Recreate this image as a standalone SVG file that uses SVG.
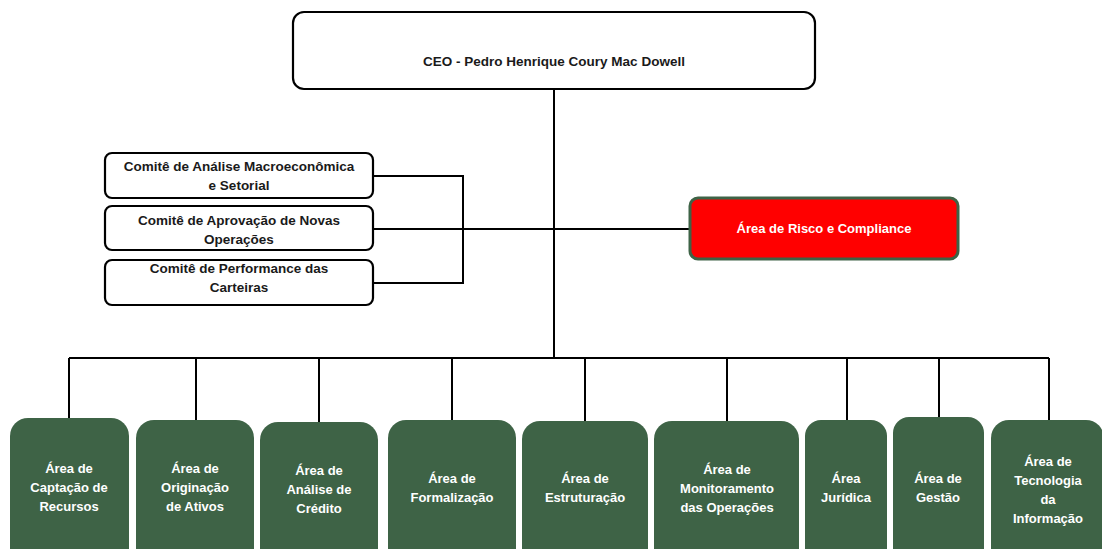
<svg xmlns="http://www.w3.org/2000/svg" width="1102" height="549" viewBox="0 0 1102 549">
<style>
.wbox{fill:#ffffff;stroke:#000000;stroke-width:2.2}
.gbox{fill:#3e6346;stroke:none}
.rbox{fill:#ff0000;stroke:#3e6346;stroke-width:3}
.t{font-family:"Liberation Sans",Arial,sans-serif;font-weight:bold;text-anchor:middle}
.tk{fill:#1a1a1a;font-size:13.5px}
.tw{fill:#ffffff;font-size:13px}
.conn{fill:none;stroke:#000000;stroke-width:2}
</style>
<rect width="1102" height="549" fill="#ffffff"/>
<g id="connectors">
<path class="conn" d="M554 89 V358 M69 358 H1049"/>
<path class="conn" d="M69 358 V418 M196 358 V420 M319 358 V422 M452 358 V420 M585 358 V421 M727 358 V421 M847 358 V420 M939 358 V417 M1049 358 V420"/>
<path class="conn" d="M373 176 H463 V283 H373 M373 229 H690"/>
</g>
<g id="ceo">
<rect class="wbox" x="293" y="12" width="522" height="77" rx="11"/>
<text class="t tk" x="554" y="66">CEO - Pedro Henrique Coury Mac Dowell</text>
</g>
<g id="comite-macro">
<rect class="wbox" x="105" y="153" width="268" height="45" rx="7"/>
<text class="t tk" x="239" y="171">Comitê de Análise Macroeconômica</text>
<text class="t tk" x="239" y="190">e Setorial</text>
</g>
<g id="comite-aprovacao">
<rect class="wbox" x="105" y="206" width="268" height="44" rx="7"/>
<text class="t tk" x="239" y="225">Comitê de Aprovação de Novas</text>
<text class="t tk" x="239" y="244">Operações</text>
</g>
<g id="comite-performance">
<rect class="wbox" x="105" y="260" width="268" height="45" rx="7"/>
<text class="t tk" x="239" y="273">Comitê de Performance das</text>
<text class="t tk" x="239" y="292">Carteiras</text>
</g>
<g id="risco">
<rect class="rbox" x="690" y="198" width="268" height="61" rx="8"/>
<text class="t tw" x="824" y="233">Área de Risco e Compliance</text>
</g>
<g id="captacao">
<rect class="gbox" x="10" y="418" width="119" height="150" rx="18"/>
<text class="t tw" x="69" y="473">Área de</text>
<text class="t tw" x="69" y="492">Captação de</text>
<text class="t tw" x="69" y="511">Recursos</text>
</g>
<g id="originacao">
<rect class="gbox" x="136" y="420" width="118" height="150" rx="18"/>
<text class="t tw" x="195" y="473">Área de</text>
<text class="t tw" x="195" y="492">Originação</text>
<text class="t tw" x="195" y="511">de Ativos</text>
</g>
<g id="analise">
<rect class="gbox" x="260" y="422" width="118" height="150" rx="18"/>
<text class="t tw" x="319" y="475">Área de</text>
<text class="t tw" x="319" y="494">Análise de</text>
<text class="t tw" x="319" y="513">Crédito</text>
</g>
<g id="formalizacao">
<rect class="gbox" x="388" y="420" width="128" height="150" rx="18"/>
<text class="t tw" x="452" y="483">Área de</text>
<text class="t tw" x="452" y="502">Formalização</text>
</g>
<g id="estruturacao">
<rect class="gbox" x="522" y="421" width="126" height="150" rx="18"/>
<text class="t tw" x="585" y="483">Área de</text>
<text class="t tw" x="585" y="502">Estruturação</text>
</g>
<g id="monitoramento">
<rect class="gbox" x="654" y="421" width="145" height="150" rx="18"/>
<text class="t tw" x="727" y="474">Área de</text>
<text class="t tw" x="727" y="493">Monitoramento</text>
<text class="t tw" x="727" y="512">das Operações</text>
</g>
<g id="juridica">
<rect class="gbox" x="805" y="420" width="82" height="150" rx="16"/>
<text class="t tw" x="846" y="483">Área</text>
<text class="t tw" x="846" y="502">Jurídica</text>
</g>
<g id="gestao">
<rect class="gbox" x="893" y="417" width="91" height="150" rx="16"/>
<text class="t tw" x="938" y="483">Área de</text>
<text class="t tw" x="938" y="502">Gestão</text>
</g>
<g id="tecnologia">
<rect class="gbox" x="991" y="420" width="113" height="150" rx="18"/>
<text class="t tw" x="1048" y="466">Área de</text>
<text class="t tw" x="1048" y="485">Tecnologia</text>
<text class="t tw" x="1048" y="504">da</text>
<text class="t tw" x="1048" y="523">Informação</text>
</g>
</svg>
